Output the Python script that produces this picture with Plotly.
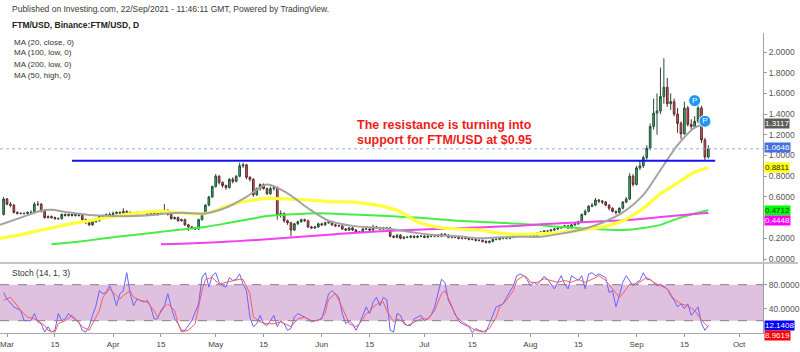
import pandas as pd
import plotly.graph_objects as go

# ---------------- DATA ----------------
START_DATE = "2021-02-28"
FIRST_OPEN = 0.43

CLOSE_FEB = [0.58]
HIGH_FEB = [0.60]
LOW_FEB = [0.42]

CLOSE_MAR = [0.53, 0.52, 0.45, 0.44, 0.44, 0.44, 0.45, 0.45, 0.53, 0.53,
             0.46, 0.40, 0.41, 0.40, 0.39, 0.39, 0.43, 0.42, 0.43, 0.42,
             0.43, 0.42, 0.38, 0.35, 0.33, 0.36, 0.37, 0.41, 0.42, 0.43, 0.43]
HIGH_MAR = [0.59, 0.55, 0.53, 0.46, 0.45, 0.45, 0.46, 0.47, 0.55, 0.56,
            0.54, 0.47, 0.42, 0.42, 0.41, 0.40, 0.44, 0.44, 0.44, 0.44,
            0.44, 0.44, 0.43, 0.39, 0.36, 0.37, 0.38, 0.42, 0.43, 0.44, 0.45]
LOW_MAR = [0.52, 0.50, 0.44, 0.43, 0.43, 0.43, 0.43, 0.44, 0.44, 0.51,
           0.45, 0.39, 0.39, 0.39, 0.38, 0.38, 0.38, 0.41, 0.41, 0.41,
           0.41, 0.41, 0.37, 0.34, 0.32, 0.32, 0.35, 0.36, 0.40, 0.41, 0.42]

CLOSE_APR = [0.44, 0.45, 0.44, 0.46, 0.45, 0.44, 0.43, 0.45, 0.44, 0.44,
             0.43, 0.44, 0.43, 0.44, 0.45, 0.47, 0.43, 0.39, 0.40, 0.37,
             0.38, 0.33, 0.31, 0.30, 0.29, 0.38, 0.44, 0.52, 0.60, 0.70]
HIGH_APR = [0.46, 0.46, 0.46, 0.49, 0.47, 0.46, 0.45, 0.46, 0.46, 0.45,
            0.45, 0.45, 0.45, 0.45, 0.47, 0.53, 0.48, 0.44, 0.41, 0.41,
            0.39, 0.39, 0.34, 0.32, 0.31, 0.39, 0.45, 0.53, 0.61, 0.71]
LOW_APR = [0.42, 0.43, 0.43, 0.43, 0.44, 0.43, 0.42, 0.42, 0.43, 0.43,
           0.42, 0.42, 0.42, 0.42, 0.43, 0.44, 0.42, 0.38, 0.38, 0.36,
           0.36, 0.32, 0.27, 0.29, 0.28, 0.28, 0.37, 0.43, 0.51, 0.59]

CLOSE_MAY = [0.80, 0.74, 0.71, 0.69, 0.77, 0.75, 0.80, 0.90, 0.91, 0.79,
             0.77, 0.62, 0.68, 0.72, 0.68, 0.63, 0.68, 0.69, 0.42, 0.44,
             0.37, 0.35, 0.28, 0.34, 0.36, 0.38, 0.37, 0.31, 0.30, 0.31, 0.34]
HIGH_MAY = [0.82, 0.81, 0.75, 0.72, 0.78, 0.79, 0.81, 0.93, 0.93, 0.92,
            0.80, 0.78, 0.69, 0.73, 0.73, 0.69, 0.70, 0.71, 0.70, 0.47,
            0.45, 0.38, 0.36, 0.35, 0.37, 0.39, 0.39, 0.38, 0.32, 0.32, 0.35]
LOW_MAY = [0.69, 0.72, 0.69, 0.67, 0.68, 0.73, 0.74, 0.79, 0.88, 0.77,
           0.75, 0.60, 0.61, 0.66, 0.67, 0.62, 0.62, 0.66, 0.38, 0.40,
           0.35, 0.33, 0.22, 0.27, 0.33, 0.35, 0.36, 0.30, 0.29, 0.29, 0.30]

CLOSE_JUN = [0.33, 0.35, 0.36, 0.33, 0.32, 0.32, 0.29, 0.28, 0.30, 0.28,
             0.26, 0.26, 0.29, 0.29, 0.28, 0.31, 0.30, 0.29, 0.30, 0.30,
             0.22, 0.21, 0.23, 0.20, 0.21, 0.21, 0.22, 0.21, 0.22, 0.22]
HIGH_JUN = [0.35, 0.36, 0.37, 0.37, 0.34, 0.33, 0.33, 0.30, 0.31, 0.31,
            0.29, 0.27, 0.30, 0.30, 0.30, 0.33, 0.32, 0.31, 0.31, 0.31,
            0.31, 0.23, 0.24, 0.24, 0.22, 0.22, 0.23, 0.23, 0.23, 0.23]
LOW_JUN = [0.32, 0.32, 0.34, 0.32, 0.31, 0.31, 0.28, 0.27, 0.27, 0.27,
           0.25, 0.25, 0.25, 0.28, 0.27, 0.27, 0.29, 0.28, 0.28, 0.29,
           0.21, 0.20, 0.20, 0.19, 0.19, 0.20, 0.20, 0.20, 0.20, 0.21]

CLOSE_JUL = [0.21, 0.22, 0.22, 0.23, 0.22, 0.24, 0.23, 0.21, 0.21, 0.21,
             0.20, 0.20, 0.20, 0.19, 0.19, 0.18, 0.18, 0.17, 0.16, 0.17,
             0.19, 0.19, 0.20, 0.20, 0.20, 0.21, 0.22, 0.23, 0.23, 0.23, 0.23]
HIGH_JUL = [0.23, 0.23, 0.23, 0.24, 0.24, 0.25, 0.25, 0.24, 0.22, 0.22,
            0.22, 0.21, 0.21, 0.21, 0.20, 0.20, 0.19, 0.19, 0.18, 0.18,
            0.20, 0.20, 0.21, 0.21, 0.21, 0.22, 0.23, 0.24, 0.24, 0.24, 0.24]
LOW_JUL = [0.20, 0.20, 0.21, 0.21, 0.21, 0.21, 0.22, 0.20, 0.20, 0.20,
           0.19, 0.19, 0.19, 0.18, 0.18, 0.17, 0.17, 0.16, 0.15, 0.15,
           0.16, 0.18, 0.18, 0.19, 0.19, 0.19, 0.20, 0.21, 0.22, 0.22, 0.22]

CLOSE_AUG = [0.24, 0.23, 0.25, 0.26, 0.27, 0.27, 0.28, 0.29, 0.30, 0.31,
             0.32, 0.30, 0.33, 0.34, 0.36, 0.43, 0.46, 0.51, 0.52, 0.57,
             0.56, 0.55, 0.52, 0.49, 0.46, 0.45, 0.49, 0.55, 0.58, 0.80, 0.72]
HIGH_AUG = [0.25, 0.25, 0.26, 0.27, 0.28, 0.28, 0.29, 0.30, 0.31, 0.32,
            0.33, 0.33, 0.34, 0.35, 0.37, 0.44, 0.48, 0.52, 0.54, 0.59,
            0.58, 0.57, 0.56, 0.53, 0.50, 0.47, 0.50, 0.56, 0.60, 0.83, 0.82]
LOW_AUG = [0.22, 0.22, 0.22, 0.24, 0.25, 0.26, 0.26, 0.27, 0.28, 0.29,
           0.30, 0.29, 0.29, 0.32, 0.33, 0.35, 0.42, 0.45, 0.50, 0.51,
           0.54, 0.53, 0.51, 0.47, 0.45, 0.43, 0.44, 0.48, 0.54, 0.57, 0.70]

CLOSE_SEP = [0.88, 0.90, 0.98, 1.07, 1.28, 1.41, 1.43, 1.57, 1.66, 1.50,
             1.52, 1.40, 1.31, 1.21, 1.46, 1.30, 1.28, 1.33, 1.46, 1.15,
             0.985, 1.0646]
HIGH_SEP = [0.90, 0.95, 1.00, 1.10, 1.31, 1.55, 1.60, 1.85, 1.94, 1.75,
            1.60, 1.55, 1.46, 1.33, 1.52, 1.48, 1.35, 1.38, 1.50, 1.48,
            1.17, 1.10]
LOW_SEP = [0.71, 0.86, 0.88, 0.96, 1.05, 1.25, 1.20, 1.40, 1.50, 1.47,
           1.44, 1.38, 1.22, 1.16, 1.20, 1.28, 1.25, 1.26, 1.31, 1.12,
           0.95, 0.97]

# Moving averages
MA_DATES = ["2021-02-27", "2021-03-05", "2021-03-11", "2021-03-14", "2021-03-18", "2021-03-25",
            "2021-04-01", "2021-04-07", "2021-04-14", "2021-04-15", "2021-04-21", "2021-04-28",
            "2021-05-05", "2021-05-10", "2021-05-16", "2021-05-22", "2021-05-28", "2021-06-03",
            "2021-06-10", "2021-06-17", "2021-06-23", "2021-06-29", "2021-07-05", "2021-07-11",
            "2021-07-17", "2021-07-23", "2021-07-29", "2021-08-04", "2021-08-10", "2021-08-16",
            "2021-08-22", "2021-08-28", "2021-09-03", "2021-09-08", "2021-09-13", "2021-09-18",
            "2021-09-22"]
MA20_CLOSE = [0.33, 0.40, 0.467, 0.475, 0.455, 0.425, 0.415, 0.415, 0.43, 0.435, 0.447, 0.44,
              0.51, 0.60, 0.72, 0.635, 0.49, 0.37, 0.32, 0.30, 0.28, 0.25, 0.23, 0.22,
              0.20, 0.21, 0.215, 0.215, 0.245, 0.285, 0.35, 0.45, 0.62, 0.86, 1.10, 1.27, 1.3117]
MA50_HIGH = [0.20, 0.235, 0.28, 0.30, 0.33, 0.37, 0.41, 0.44, 0.46, 0.462, 0.445, 0.44,
             0.52, 0.56, 0.585, 0.58, 0.57, 0.555, 0.55, 0.52, 0.47, 0.36, 0.306, 0.29,
             0.28, 0.25, 0.235, 0.245, 0.255, 0.28, 0.31, 0.37, 0.49, 0.63, 0.735, 0.84, 0.8811]
MA100_LOW = [None, None, None, 0.142, 0.155, 0.18, 0.21, 0.232, 0.258, 0.262, 0.285, 0.31,
             0.35, 0.38, 0.415, 0.43, 0.44, 0.44, 0.43, 0.42, 0.41, 0.40, 0.385, 0.37,
             0.36, 0.35, 0.34, 0.325, 0.31, 0.297, 0.285, 0.28, 0.30, 0.33, 0.39, 0.44, 0.4712]
MA200_LOW = [None, None, None, None, None, None, None, None, None, 0.142, 0.148, 0.158,
             0.168, 0.178, 0.19, 0.205, 0.22, 0.235, 0.252, 0.265, 0.275, 0.283, 0.29, 0.297,
             0.305, 0.313, 0.322, 0.335, 0.345, 0.355, 0.365, 0.375, 0.39, 0.405, 0.42, 0.435, 0.4448]

# Stochastic (days counted from START_DATE)
K_DAY = [0, 1, 3, 5, 6, 8, 9, 10, 11, 12, 13, 14, 15, 16, 17, 18, 19, 20, 22, 23, 24, 25, 26, 27,
         28, 29, 30, 31, 32, 33, 34, 35, 36, 37, 38, 39, 41, 42, 43, 44, 45, 46, 47, 48, 49, 50,
         51, 52, 53, 55, 57, 58, 59, 60, 61, 62, 63, 64, 65, 66, 67, 68, 69, 70, 71, 72, 73, 74,
         75, 76, 77, 78, 79, 80, 81, 82, 83, 84, 85, 86, 87, 88, 89, 90, 91, 93, 94, 95, 96, 97,
         98, 99, 100, 101, 102, 103, 104, 105, 106, 107, 108, 109, 110, 111, 112, 113, 114, 115,
         116, 117, 118, 119, 120, 122, 123, 124, 125, 126, 127, 128, 129, 130, 131, 132, 133, 134,
         135, 136, 137, 138, 139, 141, 142, 143, 144, 146, 147, 149, 150, 151, 152, 153, 154, 155,
         156, 158, 159, 161, 163, 164, 165, 166, 168, 169, 170, 171, 172, 173, 174, 176, 177, 178,
         179, 180, 181, 182, 184, 185, 186, 187, 188, 189, 191, 192, 194, 195, 196, 197, 198, 199,
         200, 201, 202, 203, 204, 205, 206]
K_VAL = [67, 56, 43, 37, 20, 20, 32, 18, 15, 1, 10, 1, 4, 32, 20, 23, 32, 26, 18, 4, 1, 10, 29, 45,
         70, 65, 67, 78, 65, 45, 65, 70, 100, 65, 45, 56, 51, 54, 43, 23, 23, 37, 45, 65, 43, 23,
         15, 4, 4, 20, 48, 92, 100, 76, 95, 100, 84, 78, 76, 92, 87, 89, 98, 81, 70, 26, 10, 15,
         29, 15, 12, 20, 29, 10, 20, 15, 4, 7, 26, 32, 29, 26, 23, 18, 20, 23, 43, 65, 70, 65,
         59, 32, 15, 20, 15, 4, 15, 29, 43, 32, 51, 59, 45, 59, 55, 4, 1, 32,
         29, 15, 12, 12, 23, 29, 20, 23, 29, 43, 65, 89, 84, 54, 43, 32, 20, 15,
         12, 10, 0, 7, 4, 1, 15, 29, 43, 48, 59, 78, 95, 98, 95, 89, 78, 84,
         80, 94, 89, 73, 95, 81, 73, 95, 87, 95, 73, 98, 100, 95, 98, 92, 67, 70,
         43, 62, 84, 95, 78, 84, 87, 100, 89, 89, 78, 81, 73, 62, 54, 43, 48, 40,
         48, 29, 37, 43, 15, 4, 12.1408]
D_DAY = [0, 2, 4, 5, 7, 9, 10, 12, 13, 15, 16, 18, 20, 21, 23, 25, 26, 28, 29, 31, 32, 34, 35, 37,
         38, 40, 42, 44, 45, 47, 48, 50, 51, 52, 54, 56, 58, 59, 61, 63, 65, 67, 69, 70, 72, 73,
         75, 77, 79, 81, 83, 84, 86, 88, 90, 92, 94, 95, 97, 98, 100, 101, 103, 104, 105, 106,
         107, 108, 110, 111, 112, 114, 115, 117, 118, 120, 122, 124, 126, 128, 129, 131, 132, 134,
         135, 137, 138, 140, 142, 144, 145, 147, 149, 150, 152, 153, 154, 156, 158, 160, 162, 164,
         166, 168, 170, 172, 174, 176, 178, 180, 181, 183, 185, 187, 188, 190, 192, 194, 196, 198,
         200, 202, 204, 206]
D_VAL = [54, 59, 45, 37, 26, 23, 20, 12, 4, 1, 15, 20, 29, 23, 10, 4, 15, 37, 59, 73, 67, 56, 62, 70,
         59, 54, 51, 37, 26, 43, 48, 37, 15, 1, 4, 15, 70, 89, 92, 81, 84, 87, 89, 89, 65, 26,
         18, 15, 15, 18, 12, 10, 23, 26, 20, 20, 32, 56, 65, 54, 29, 15, 10, 15, 22, 32,
         34, 43, 51, 51, 37, 18, 23, 18, 12, 18, 23, 23, 37, 65, 70, 45, 29, 18,
         15, 7, 4, 1, 7, 26, 43, 54, 70, 87, 95, 92, 84, 84, 90, 87, 84, 87,
         84, 89, 84, 89, 95, 87, 73, 59, 65, 81, 81, 89, 92, 84, 78, 73, 56, 48,
         45, 37, 21, 8.9619]

# Pivot markers
PIVOT_DATES = ["2021-09-18", "2021-09-21"]
PIVOT_PRICES = [1.53, 1.33]

SUPPORT_LEVEL = 0.95
SUPPORT_START, SUPPORT_END = "2021-03-20", "2021-09-24"
LAST_PRICE = 1.0646

# price-axis labels visible in the reference (0.4000 is hidden under the MA tags there)
PRICE_TICKS = [0.0, 0.2, 0.6, 0.8, 1.0, 1.2, 1.4, 1.6, 1.8, 2.0]
STOCH_TICKS = [40, 80]

TICK_DATES = ["2021-03-01", "2021-03-15", "2021-04-01", "2021-04-15", "2021-05-01", "2021-05-15",
              "2021-06-01", "2021-06-15", "2021-07-01", "2021-07-15", "2021-08-01", "2021-08-15",
              "2021-09-01", "2021-09-15", "2021-10-01"]
TICK_TEXT = ["Mar", "15", "Apr", "15", "May", "15", "Jun", "15", "Jul", "15", "Aug", "15",
             "Sep", "15", "Oct"]

# ---------------- BUILD ----------------
close = CLOSE_FEB + CLOSE_MAR + CLOSE_APR + CLOSE_MAY + CLOSE_JUN + CLOSE_JUL + CLOSE_AUG + CLOSE_SEP
high = HIGH_FEB + HIGH_MAR + HIGH_APR + HIGH_MAY + HIGH_JUN + HIGH_JUL + HIGH_AUG + HIGH_SEP
low = LOW_FEB + LOW_MAR + LOW_APR + LOW_MAY + LOW_JUN + LOW_JUL + LOW_AUG + LOW_SEP
opens = [FIRST_OPEN] + close[:-1]
dates = pd.date_range(START_DATE, periods=len(close), freq="D")
start = pd.Timestamp(START_DATE)
k_dates = [start + pd.Timedelta(days=d) for d in K_DAY]
d_dates = [start + pd.Timedelta(days=d) for d in D_DAY]

FONT = "Liberation Sans, Arial, sans-serif"
H = 333.0  # plot-area height in px (used only for paper fractions)


def py(pix):
    return (H - pix) / H


fig = go.Figure()

ma_specs = [
    (MA100_LOW, "#44ee44", 2.0),
    (MA200_LOW, "#f040f0", 2.0),
    (MA50_HIGH, "#ffff3a", 3.2),
    (MA20_CLOSE, "#a3a3a3", 2.0),
]
for vals, col, w in ma_specs:
    fig.add_trace(go.Scatter(x=MA_DATES, y=vals, mode="lines", xaxis="x", yaxis="y",
                             line=dict(color=col, width=w, shape="spline", smoothing=0.8),
                             hoverinfo="skip", showlegend=False, connectgaps=False))

fig.add_trace(go.Candlestick(
    x=dates, open=opens, high=high, low=low, close=close, xaxis="x", yaxis="y",
    increasing=dict(fillcolor="#2dbb6a", line=dict(color="#2b4a36", width=1)),
    decreasing=dict(fillcolor="#ee5555", line=dict(color="#5a2a2a", width=1)),
    whiskerwidth=0, showlegend=False))

fig.add_trace(go.Scatter(
    x=PIVOT_DATES, y=PIVOT_PRICES, mode="markers+text", text=["P", "P"], xaxis="x", yaxis="y",
    marker=dict(size=12, color="#2196f3", line=dict(color="white", width=1)),
    textfont=dict(color="white", size=8, family=FONT), textposition="middle center",
    showlegend=False, hoverinfo="skip"))

fig.add_trace(go.Scatter(x=k_dates, y=K_VAL, mode="lines", xaxis="x", yaxis="y2",
                         line=dict(color="#6464ff", width=1), showlegend=False))
fig.add_trace(go.Scatter(x=d_dates, y=D_VAL, mode="lines", xaxis="x", yaxis="y2",
                         line=dict(color="#ff5a5a", width=1), showlegend=False))

shapes = [
    dict(type="rect", xref="paper", yref="y2", x0=0, x1=1, y0=20, y1=80,
         fillcolor="#dfc1df", line=dict(width=0), layer="below"),
    dict(type="line", xref="paper", yref="y2", x0=0, x1=1, y0=80, y1=80,
         line=dict(color="#8c7c8c", width=1, dash="dash")),
    dict(type="line", xref="paper", yref="y2", x0=0, x1=1, y0=20, y1=20,
         line=dict(color="#8c7c8c", width=1, dash="dash")),
    dict(type="line", xref="paper", yref="y", x0=0, x1=1, y0=LAST_PRICE, y1=LAST_PRICE,
         line=dict(color="#9bb0ea", width=1, dash="dot")),
    dict(type="line", xref="x", yref="y", x0=SUPPORT_START, x1=SUPPORT_END,
         y0=SUPPORT_LEVEL, y1=SUPPORT_LEVEL, line=dict(color="#1414f0", width=2)),
    dict(type="line", xref="paper", yref="paper", x0=0, x1=800 / 765, y0=py(263), y1=py(263),
         line=dict(color="#c4c4c4", width=2)),
]

annotations = []


def txt(x_px, y_px, s, size=8.5, color="#333", bold=False, anchor="left"):
    annotations.append(dict(xref="paper", yref="paper", x=x_px / 765.0, y=py(y_px),
                            text=("<b>%s</b>" % s) if bold else s, showarrow=False,
                            xanchor=anchor, yanchor="middle",
                            font=dict(family=FONT, size=size, color=color)))


txt(10, 9, "Published on Investing.com, 22/Sep/2021 - 11:46:11 GMT, Powered by TradingView.", 8.5, "#3a3a3a")
txt(10, 25, "FTM/USD, Binance:FTM/USD, D", 8.5, "#222", bold=True)
txt(12, 42, "MA (20, close, 0)", 8, "#333")
txt(12, 53, "MA (100, low, 0)", 8, "#333")
txt(12, 64, "MA (200, low, 0)", 8, "#333")
txt(12, 75, "MA (50, high, 0)", 8, "#333")
txt(10, 273, "Stoch (14, 1, 3)", 8.5, "#333")
txt(446, 125, "The resistance is turning into", 12.5, "#ee1c1c", bold=True, anchor="center")
txt(446, 139.5, "support for FTM/USD at $0.95", 12.5, "#ee1c1c", bold=True, anchor="center")


def tag(val, yref, bg, fg, shift=0):
    annotations.append(dict(xref="paper", yref=yref, x=1.0, y=val, xanchor="left",
                            yanchor="middle", xshift=1, yshift=shift, height=9,
                            text="%.4f" % val, showarrow=False, bgcolor=bg, borderpad=0,
                            font=dict(family=FONT, size=8, color=fg)))


tag(1.3117, "y", "#5c5c5c", "white")
tag(LAST_PRICE, "y", "#4470e0", "white", shift=1)
tag(0.8811, "y", "#ffff00", "#222")
tag(0.4712, "y", "#00ff00", "#1a3a1a")
tag(0.4448, "y", "#ff00ff", "white", shift=-8)
tag(12.1408, "y2", "#0000ff", "white")
tag(8.9619, "y2", "#ff0000", "white", shift=-8)

fig.update_layout(
    width=800, height=352, margin=dict(l=0, r=35, t=0, b=19),
    paper_bgcolor="white", plot_bgcolor="white", showlegend=False,
    shapes=shapes, annotations=annotations,
    font=dict(family=FONT, size=8.5, color="#444"),
    xaxis=dict(type="date", range=["2021-02-26 22:48", "2021-10-07 23:30"], anchor="y2",
               tickvals=TICK_DATES, ticktext=TICK_TEXT, ticks="outside", ticklen=3,
               tickcolor="#999", tickfont=dict(size=8, color="#444"), showgrid=False,
               showline=True, linecolor="#aaaaaa", linewidth=1, zeroline=False,
               rangeslider=dict(visible=False)),
    yaxis=dict(domain=[py(262), py(33)], range=[(259 - 262) / 103.5, (259 - 33) / 103.5],
               side="right", tickvals=PRICE_TICKS, tickformat=".4f", ticks="outside", ticklen=3,
               tickcolor="#999", tickfont=dict(size=8.5, color="#555"), showgrid=False,
               showline=True, linecolor="#a0a0a0", linewidth=1, zeroline=False),
    yaxis2=dict(domain=[0, py(264)], range=[-0.5, 114.5], side="right",
                tickvals=STOCH_TICKS, tickformat=".4f", ticks="outside", ticklen=3,
                tickcolor="#999", tickfont=dict(size=8.5, color="#555"), showgrid=False,
                showline=True, linecolor="#a0a0a0", linewidth=1, zeroline=False),
)

fig.write_html("out.html")
